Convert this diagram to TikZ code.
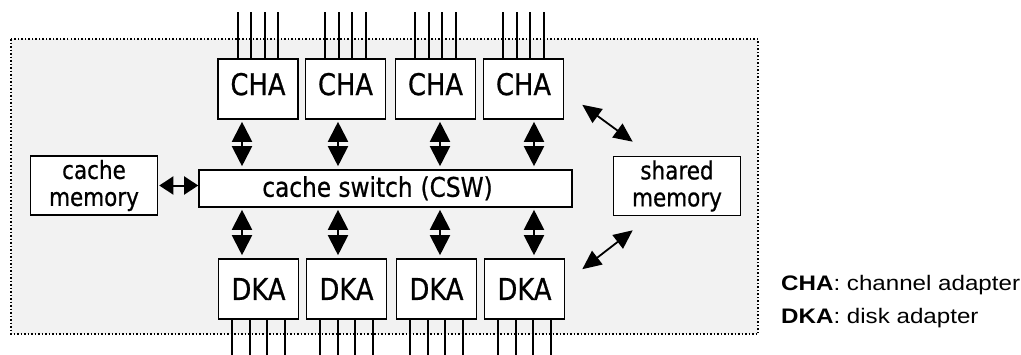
\documentclass[tikz,border=0pt]{standalone}
\usepackage{fontspec}
\setmainfont{Liberation Sans}
\newfontfamily\gothfont[FakeStretch=0.86,FakeBold=0.7]{DejaVu Sans}
\newfontfamily\legendfont[FakeStretch=1.15]{Liberation Sans}
\usetikzlibrary{arrows.meta}
\definecolor{panelgray}{HTML}{F2F2F2}
\tikzset{
  adapter/.style={draw,line width=1.6pt,fill=white,minimum width=80pt,minimum height=60pt,inner sep=0pt,font=\gothfont\fontsize{30}{30}\selectfont},
  memorybox/.style={draw,line width=1.6pt,fill=white,minimum width=127pt,minimum height=59pt,inner sep=0pt,align=center,font=\gothfont\fontsize{25}{27}\selectfont},
  switchbox/.style={draw,line width=1.6pt,fill=white,minimum width=373pt,minimum height=37pt,inner sep=0pt,font=\gothfont\fontsize{27}{27}\selectfont},
  wire/.style={line width=1.6pt},
  vbus/.style={line width=2pt,{Triangle[width=20pt,length=20pt]}-{Triangle[width=20pt,length=20pt]}},
  hbus/.style={line width=2pt,{Triangle[width=18pt,length=14pt]}-{Triangle[width=18pt,length=14pt]}},
  diag/.style={line width=1.8pt,{Triangle[width=17pt,length=19pt]}-{Triangle[width=17pt,length=19pt]}},
  legend/.style={anchor=west,inner sep=0pt,font=\legendfont\fontsize{21}{24}\selectfont}
}
\begin{document}
\begin{tikzpicture}[x=1pt,y=-1pt]
\useasboundingbox (0,0) rectangle (1021,354);
\draw[dotted,line width=1.5pt,fill=panelgray] (11,39) rectangle (758,334);
\foreach \i/\cx in {1/258,2/345.5,3/435.5,4/523.5}
  \node[adapter,text depth=10pt] (cha\i) at (\cx,89) {CHA};
\foreach \i/\cx in {1/258.5,2/346.5,3/436.5,4/524.5}
  \node[adapter] (dka\i) at (\cx,289) {DKA};
\node[switchbox,text depth=4pt] (csw) at (385.5,188.5) {\hspace{-16pt}cache switch\hspace{8pt}(CSW)};
\node[memorybox] (cmem) at (94,185.5) {cache\\memory};
\node[memorybox] (shm) at (677,186) {shared\\memory};
\foreach \i in {1,...,4}
  \foreach \k in {-1.5,-0.5,0.5,1.5}
  {
    \draw[wire] ([xshift=\k*13.5pt]cha\i.north) -- ++(0,-46);
    \draw[wire] ([xshift=\k*17.5pt]dka\i.south) -- ++(0,36);
  }
\foreach \i/\ax in {1/242,2/338,3/440,4/534}
{
  \draw[vbus,shorten <=2pt,shorten >=3pt] (\ax,0 |- cha\i.south) -- (\ax,0 |- csw.north);
  \draw[vbus,shorten <=2pt,shorten >=3pt] (\ax,0 |- csw.south) -- (\ax,0 |- dka\i.north);
}
\draw[hbus,shorten <=1pt] (cmem.east) -- (cmem.east -| csw.west);
\draw[diag] ([shift={(18,-15)}]cha4.south east) -- ([shift={(20,-14)}]shm.north west);
\draw[diag] ([shift={(17,11)}]dka4.north east) -- ([shift={(20,14)}]shm.south west);
\node[legend] (legcha) at (781,285) {\textbf{CHA}: channel adapter};
\node[legend] (legdka) at (781,318) {\textbf{DKA}: disk adapter};
\end{tikzpicture}
\end{document}
